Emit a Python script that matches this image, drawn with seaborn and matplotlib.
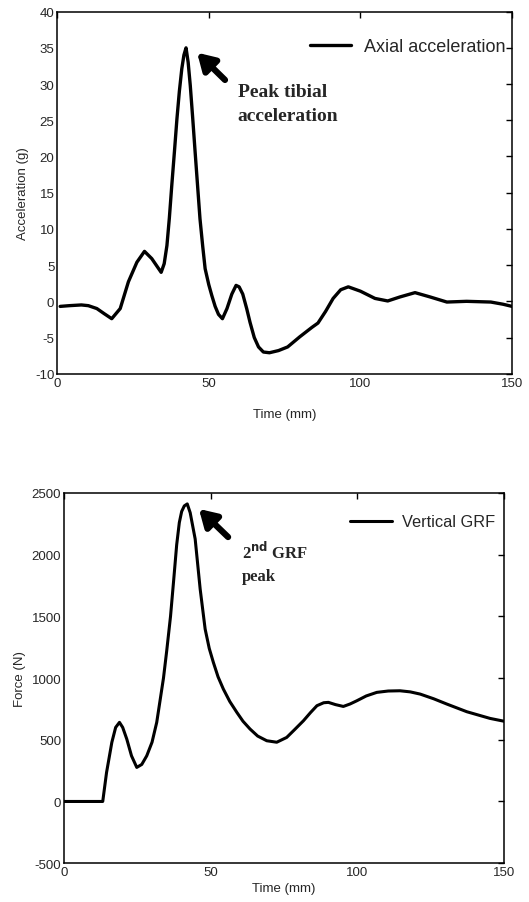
import pandas as pd
import seaborn as sns
import matplotlib
matplotlib.use('Agg')
import matplotlib.pyplot as plt

# acceleration trace
acc_time = [1, 4, 8, 10.3, 13.1, 15.5, 18.0, 20.8, 23.5, 26.3, 28.8, 31.2, 34.3, 35.3,
            36.2, 37.0, 37.8, 38.7, 39.5, 40.3, 41.1, 41.8, 42.5, 43.2, 43.9, 44.7, 45.5,
            46.3, 47.1, 48.0, 48.8, 50.0, 51.0, 52.1, 53.2, 54.5, 56.0, 57.6, 59.0, 60.0,
            61.2, 62.5, 63.6, 65.0, 66.4, 68.0, 70.0, 73.0, 76.0, 80.0, 84.0, 86.0, 88.5,
            91.0, 93.5, 96.0, 100.0, 104.8, 109.0, 113.0, 118.0, 123.0, 128.5, 135.0,
            143.0, 147.0, 150.0]
acc_vals = [-0.7, -0.6, -0.5, -0.6, -1.0, -1.7, -2.4, -1.0, 2.7, 5.4, 6.9, 5.9, 4.0, 5.2,
            7.7, 11.5, 16.0, 20.8, 25.2, 29.0, 32.1, 34.0, 35.0, 33.0, 29.8, 25.3, 20.6,
            16.0, 11.4, 7.6, 4.5, 2.3, 0.8, -0.7, -1.8, -2.4, -1.0, 1.0, 2.2, 2.0,
            1.0, -1.0, -2.9, -5.0, -6.3, -7.0, -7.1, -6.8, -6.3, -4.9, -3.6, -3.0, -1.4,
            0.4, 1.6, 2.0, 1.4, 0.4, 0.05, 0.6, 1.2, 0.6, -0.1, 0.0,
            -0.1, -0.4, -0.7]

# vertical GRF trace
grf_time = [0, 13.2, 14.5, 16.3, 17.6, 18.9, 20.0, 21.4, 23.0, 24.8, 26.5, 28.2, 30.0,
            31.6, 33.9, 35.0, 36.3, 37.4, 38.4, 39.3, 40.1, 41.0, 42.0, 43.0, 44.7, 46.4,
            48.1, 49.5, 50.9, 52.5, 54.3, 56.5, 58.9, 61.0, 63.4, 66.0, 69.1, 72.5, 75.9,
            78.5, 81.6, 84.0, 86.2, 88.5, 90.1, 92.5, 95.2, 97.5, 99.8, 103.0, 106.6,
            110.5, 114.5, 118.0, 121.4, 126.0, 130.5, 137.3, 145.2, 150]
grf_vals = [0, 0, 235, 479, 600, 641, 600, 505, 370, 276, 300, 370, 480,
            641, 1000, 1220, 1500, 1800, 2080, 2260, 2350, 2395, 2411, 2340, 2127, 1722,
            1397, 1240, 1127, 1010, 911, 810, 722, 650, 587, 530, 492, 480, 519,
            580, 654, 720, 776, 800, 803, 785, 770, 790, 816, 855, 884,
            895, 897, 888, 870, 832, 789, 727, 673, 650]

sns.set_style('white')
plt.rcParams['font.family'] = ['Liberation Sans', 'DejaVu Sans']
plt.rcParams['xtick.direction'] = 'in'
plt.rcParams['ytick.direction'] = 'in'
plt.rcParams['axes.unicode_minus'] = False

acc_df = pd.DataFrame({'Time': acc_time, 'Acc': acc_vals})
grf_df = pd.DataFrame({'Time': grf_time, 'Force': grf_vals})

fig = plt.figure(figsize=(5.29, 9.03), dpi=100)
ax1 = fig.add_axes([0.108, 0.585, 0.860, 0.401])
ax2 = fig.add_axes([0.121, 0.043, 0.832, 0.410])

sns.lineplot(x='Time', y='Acc', data=acc_df, ax=ax1, color='black', linewidth=2.4,
             label='Axial acceleration', sort=False)
sns.lineplot(x='Time', y='Force', data=grf_df, ax=ax2, color='black', linewidth=2.2,
             label='Vertical GRF', sort=False)

ax1.set_xlim(0, 150)
ax1.set_ylim(-10, 40)
ax1.set_xticks([0, 50, 100, 150])
ax1.set_yticks(range(-10, 45, 5))
ax1.set_xlabel('Time (mm)', fontsize=9.5, labelpad=14)
ax1.set_ylabel('Acceleration (g)', fontsize=9.5, labelpad=4)

ax2.set_xlim(0, 150)
ax2.set_ylim(-500, 2500)
ax2.set_xticks([0, 50, 100, 150])
ax2.set_yticks(range(-500, 3000, 500))
ax2.set_xlabel('Time (mm)', fontsize=9.5, labelpad=3)
ax2.set_ylabel('Force (N)', fontsize=9.5, labelpad=4)

for ax in (ax1, ax2):
    ax.tick_params(axis='both', which='both', labelsize=9.5, length=4, width=1,
                   top=True, right=True, pad=2, color='black')
    for sp in ax.spines.values():
        sp.set_color('black')
        sp.set_linewidth(1.1)

ax1.legend(loc='center right', bbox_to_anchor=(0.985, 0.903), frameon=False,
           fontsize=13, handlelength=2.3, handletextpad=0.7, borderaxespad=0,
           borderpad=0)
ax2.legend(loc='center right', bbox_to_anchor=(0.98, 0.922), frameon=False,
           fontsize=11.8, handlelength=2.55, handletextpad=0.64, borderaxespad=0,
           borderpad=0)

ax1.annotate('', xy=(45.5, 34.6), xytext=(56.0, 30.3),
             arrowprops=dict(arrowstyle='-|>,head_length=1.0,head_width=0.6',
                             lw=4.5, color='black'))
ax1.text(59.5, 27.3, 'Peak tibial\nacceleration', fontsize=14, fontweight='bold',
         family=['Liberation Serif'], va='center', linespacing=1.5)

ax2.annotate('', xy=(45.3, 2386), xytext=(56.6, 2127),
             arrowprops=dict(arrowstyle='-|>,head_length=1.0,head_width=0.6',
                             lw=4.5, color='black'))
ax2.text(60.7, 1940, '2$^{\\mathbf{nd}}$ GRF\npeak', fontsize=12, fontweight='bold',
         family=['Liberation Serif'], va='center', linespacing=1.5)

fig.savefig('out.png', dpi=100)
